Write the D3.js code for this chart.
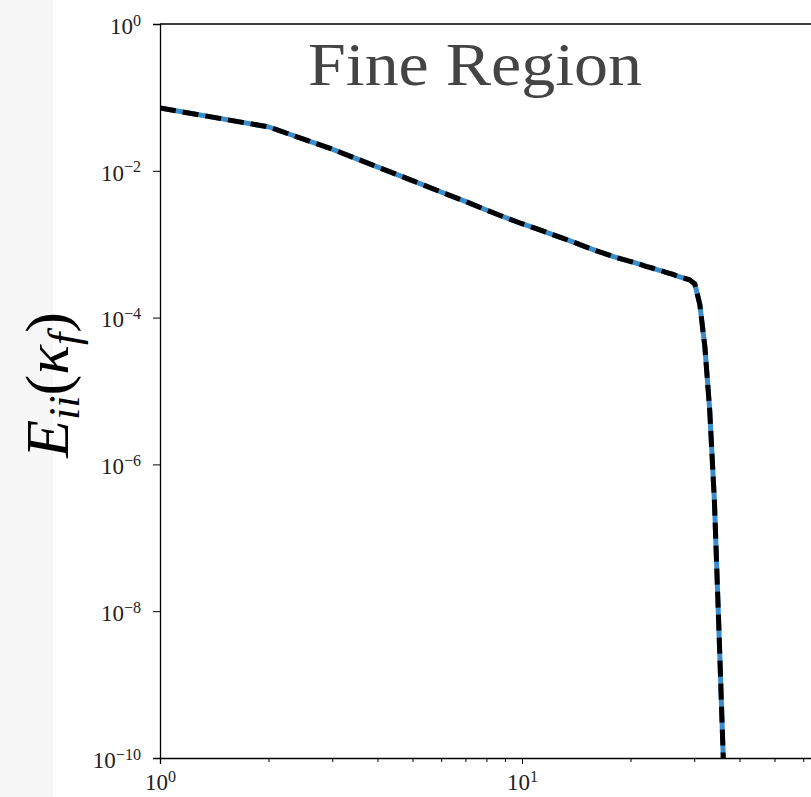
<!DOCTYPE html>
<html>
<head>
<meta charset="utf-8">
<script src="https://cdn.jsdelivr.net/npm/d3@7"></script>
<style>
  body { margin: 0; background: #fff; }
  svg { display: block; }
</style>
</head>
<body>
<div id="chart"></div>
<script>
// wavenumber and spectrum
let kf = [1, 2, 3, 4, 5, 6, 7, 8, 9, 10, 11, 12, 13, 14, 15, 16, 17, 18, 19, 20,
  21, 22, 23, 24, 25, 26, 27, 28, 29, 30, 31, 32, 33, 34, 35, 36, 37]
let energy = [0.0717, 0.0395, 0.0196, 0.0112, 0.0073, 0.0051, 0.0038, 0.0029, 0.00231, 0.0019,
  0.00162, 0.00138, 0.0012, 0.00105, 0.00092, 0.00082, 0.00074, 0.00067, 0.00062, 0.00058,
  0.00054, 0.0005, 0.00047, 0.00044, 0.000414, 0.00039, 0.000365, 0.000345, 0.000328, 0.00029,
  0.00015, 4.0e-5, 5.5e-6, 3.2e-7, 5.5e-9, 9e-11, 1e-12]

let yTicks = [1, 1e-2, 1e-4, 1e-6, 1e-8, 1e-10]
let xTicks = [1, 10]
let xMinor = [2, 3, 4, 5, 6, 7, 8, 9, 20, 30, 40, 50, 60, 70, 80, 90]

let width = 811
let height = 797
let margin = { top: 24, left: 160, bottom: 758 }

let svg = d3.select('#chart').append('svg')
  .attr('width', width)
  .attr('height', height)

// light strip on the left edge
svg.append('rect')
  .attr('x', 0).attr('y', 0)
  .attr('width', 53).attr('height', height)
  .attr('fill', '#f7f7f7')

let xScale = d3.scaleLog()
  .domain([1, 100])
  .range([margin.left, margin.left + 724])

let yScale = d3.scaleLog()
  .domain([1, 1e-10])
  .range([margin.top, margin.bottom])

svg.append('clipPath').attr('id', 'plot-clip')
  .append('rect')
  .attr('x', margin.left).attr('y', margin.top)
  .attr('width', width - margin.left).attr('height', margin.bottom - margin.top)

let line = d3.line()
  .x((d, i) => xScale(kf[i]))
  .y(d => yScale(d))

let curves = svg.append('g').attr('clip-path', 'url(#plot-clip)')

curves.append('path')
  .datum(energy)
  .attr('d', line)
  .attr('fill', 'none')
  .attr('stroke', '#3a8ccb')
  .attr('stroke-width', 5)
  .attr('stroke-linejoin', 'round')

curves.append('path')
  .datum(energy)
  .attr('d', line)
  .attr('fill', 'none')
  .attr('stroke', '#000')
  .attr('stroke-width', 5)
  .attr('stroke-dasharray', '16,7')
  .attr('stroke-linejoin', 'round')

function superscript(sel) {
  sel.each(function(d) {
    let e = Math.round(Math.log10(d))
    let t = d3.select(this)
    t.text(null)
    t.append('tspan').text('10')
    t.append('tspan')
      .attr('dy', '-0.5em')
      .attr('font-size', '0.7em')
      .text(e < 0 ? '\u2212' + Math.abs(e) : e)
  })
}

// y axis
let yAxis = svg.append('g')
  .attr('transform', `translate(${margin.left},0)`)
  .call(d3.axisLeft(yScale).tickValues(yTicks).tickSize(7).tickPadding(12).tickFormat(''))

yAxis.selectAll('.tick text')
  .attr('font-family', 'Liberation Serif, serif')
  .attr('font-size', 23)
  .attr('fill', '#222')
  .attr('dy', '0.4em')
  .call(superscript)

// x axis
let xAxis = svg.append('g')
  .attr('transform', `translate(0,${margin.bottom})`)
  .call(d3.axisBottom(xScale).tickValues(xTicks).tickSize(6).tickPadding(6).tickFormat(''))

xAxis.selectAll('.tick text')
  .attr('font-family', 'Liberation Serif, serif')
  .attr('font-size', 23)
  .attr('fill', '#222')
  .attr('dy', '0.86em')
  .call(superscript)

xAxis.selectAll('.minor')
  .data(xMinor)
  .enter().append('line')
  .attr('class', 'minor')
  .attr('x1', d => xScale(d)).attr('x2', d => xScale(d))
  .attr('y1', 0).attr('y2', 4)
  .attr('stroke', '#000')

svg.selectAll('.domain').attr('stroke', '#000').attr('stroke-width', 1.3)
svg.selectAll('.tick line').attr('stroke', '#000')

// top spine
svg.append('line')
  .attr('x1', margin.left).attr('x2', width)
  .attr('y1', margin.top).attr('y2', margin.top)
  .attr('stroke', '#000')
  .attr('stroke-width', 1.3)

// title
svg.append('text')
  .attr('x', 475)
  .attr('y', 85)
  .attr('text-anchor', 'middle')
  .attr('font-family', 'Liberation Serif, serif')
  .attr('font-size', 62)
  .attr('fill', '#444')
  .attr('textLength', 334)
  .attr('lengthAdjust', 'spacingAndGlyphs')
  .text('Fine Region')

// y label
let ylab = svg.append('text')
  .attr('transform', 'translate(68,385) rotate(-90)')
  .attr('text-anchor', 'middle')
  .attr('font-family', 'Liberation Serif, serif')
  .attr('font-size', 62)
  .attr('fill', '#000')

ylab.append('tspan').attr('font-style', 'italic').text('E')
ylab.append('tspan').attr('font-style', 'italic').attr('font-size', 44).attr('dy', 11).text('ii')
ylab.append('tspan').attr('dy', -11).text('(')
ylab.append('tspan').attr('font-style', 'italic').text('\u03ba')
ylab.append('tspan').attr('font-style', 'italic').attr('font-size', 44).attr('dy', 11).text('f')
ylab.append('tspan').attr('dy', -11).text(')')
</script>
</body>
</html>
